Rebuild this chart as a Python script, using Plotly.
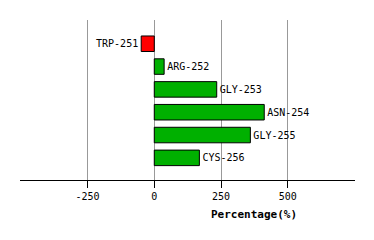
import plotly.graph_objects as go

residues = ["TRP-251", "ARG-252", "GLY-253", "ASN-254", "GLY-255", "CYS-256"]
values = [-49, 37, 234, 412, 360, 169]
colors = ["#ff0000" if v < 0 else "#00b000" for v in values]

fig = go.Figure(go.Bar(
    x=values, y=residues, orientation="h",
    marker=dict(color=colors, line=dict(color="black", width=1)),
    width=0.68,
    text=residues, textposition="outside",
    textfont=dict(family="DejaVu Sans Mono", size=10, color="black"),
    cliponaxis=False,
))

fig.update_layout(
    width=374, height=240,
    margin=dict(l=20, r=19, t=20, b=60),
    paper_bgcolor="white", plot_bgcolor="white",
    showlegend=False,
    font=dict(family="DejaVu Sans Mono", size=10, color="black"),
    xaxis=dict(
        range=[-503, 752],
        tickvals=[-250, 0, 250, 500],
        ticktext=["-250", "0", "250", "500"],
        showgrid=True, gridcolor="#999999", gridwidth=1,
        zeroline=False,
        showline=True, linecolor="black", linewidth=1,
        ticks="outside", ticklen=7, tickcolor="black",
        tickfont=dict(family="DejaVu Sans Mono", size=10),
    ),
    yaxis=dict(
        type="category",
        categoryorder="array", categoryarray=residues,
        range=[5.97, -1.04],
        showticklabels=False, showgrid=False, zeroline=False, showline=False,
    ),
    annotations=[dict(
        text="<b>Percentage(%)</b>", x=254, y=214, xref="paper", yref="paper",
        showarrow=False,
        font=dict(family="DejaVu Sans Mono", size=11, color="black"),
    )],
)
# Place title annotation by pixel -> convert to paper coords
fig.layout.annotations[0].update(x=(254.5 - 20) / 335, y=(180 - 214) / 160,
                                 xanchor="center", yanchor="middle")

fig.write_html("out.html")
